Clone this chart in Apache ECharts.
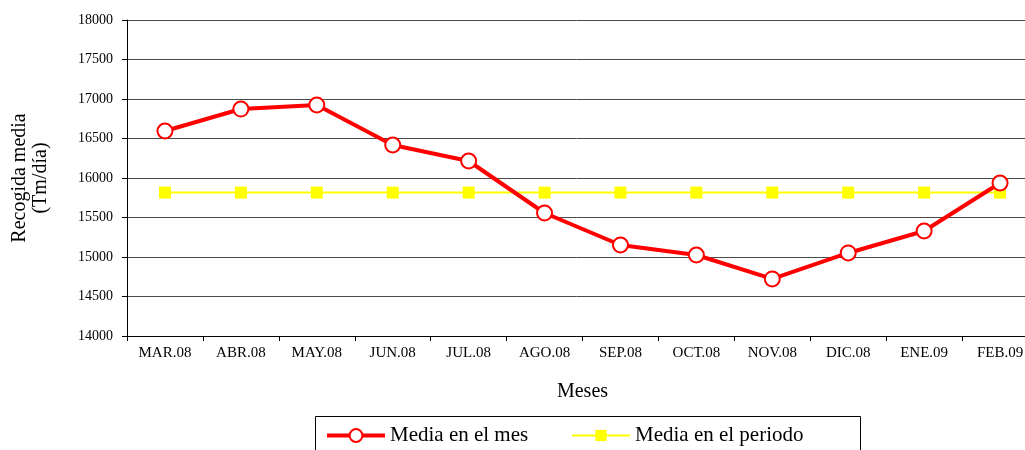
<!DOCTYPE html>
<html>
<head>
<meta charset="utf-8">
<script src="https://cdn.jsdelivr.net/npm/echarts@6/dist/echarts.min.js"></script>
<style>
  html, body { margin: 0; padding: 0; background: #fff; }
  #chart { width: 1025px; height: 450px; }
</style>
</head>
<body>
<div id="chart"></div>
<script>
// Monthly collection averages (Tm/día), March 2008 – February 2009
const months = ['MAR.08', 'ABR.08', 'MAY.08', 'JUN.08', 'JUL.08', 'AGO.08',
                'SEP.08', 'OCT.08', 'NOV.08', 'DIC.08', 'ENE.09', 'FEB.09'];
const monthlyMean = [16595, 16873, 16924, 16418, 16215, 15557,
                     15152, 15025, 14722, 15051, 15329, 15937];
const periodMean = [15815, 15815, 15815, 15815, 15815, 15815,
                    15815, 15815, 15815, 15815, 15815, 15815];
const seriesNames = ['Media en el mes', 'Media en el periodo'];

const serif = '"Liberation Serif", "Times New Roman", serif';
const chart = echarts.init(document.getElementById('chart'));

chart.setOption({
  animation: false,
  backgroundColor: '#ffffff',
  grid: { left: 127, top: 20, right: -13, bottom: 114, containLabel: false, outerBoundsMode: 'none' },
  xAxis: {
    type: 'category',
    data: months,
    boundaryGap: true,
    name: 'Meses',
    nameLocation: 'middle',
    nameGap: 46,
    nameTextStyle: { fontFamily: serif, fontSize: 20, color: '#000' },
    axisLine: { lineStyle: { color: '#000', width: 1 } },
    axisTick: { show: true, alignWithLabel: false, length: 5, lineStyle: { color: '#000' } },
    axisLabel: { fontFamily: serif, fontSize: 15, color: '#000', margin: 10, interval: 0 },
    splitLine: { show: false }
  },
  yAxis: {
    type: 'value',
    min: 14000,
    max: 18000,
    interval: 500,
    name: 'Recogida media\n(Tm/día)',
    nameLocation: 'middle',
    nameRotate: 90,
    nameGap: 76,
    nameTextStyle: { fontFamily: serif, fontSize: 20, color: '#000', lineHeight: 21 },
    axisLine: { show: true, lineStyle: { color: '#000', width: 1 } },
    axisTick: { show: true, length: 5, lineStyle: { color: '#000' } },
    axisLabel: {
      fontFamily: serif, fontSize: 14, color: '#000', margin: 14,
      formatter: v => String(v)
    },
    splitLine: { show: true, lineStyle: { color: '#4a4a4a', width: 1 } }
  },
  graphic: [{
    type: 'rect',
    shape: { x: 315.5, y: 416.5, width: 545, height: 40 },
    style: { fill: '#fff', stroke: '#000', lineWidth: 1 },
    z: 0
  }],
  legend: [{
    data: [seriesNames[0]],
    left: 320,
    top: 420,
    itemWidth: 58,
    itemHeight: 16,
    itemGap: 4,
    lineStyle: { width: 4 },
    textStyle: { fontFamily: serif, fontSize: 21, color: '#000' },
    z: 5
  }, {
    data: [seriesNames[1]],
    left: 566,
    top: 420,
    itemWidth: 58,
    itemHeight: 14,
    textStyle: { fontFamily: serif, fontSize: 21, color: '#000' },
    z: 5
  }],
  series: [{
    name: seriesNames[1],
    type: 'line',
    data: periodMean,
    symbol: 'rect',
    symbolSize: 12,
    lineStyle: { color: '#ffff00', width: 2 },
    itemStyle: { color: '#ffff00', borderWidth: 0 },
    z: 2
  }, {
    name: seriesNames[0],
    type: 'line',
    data: monthlyMean,
    symbol: 'circle',
    symbolSize: 15,
    showAllSymbol: true,
    lineStyle: { color: '#ff0000', width: 4 },
    itemStyle: { color: '#ffffff', borderColor: '#ff0000', borderWidth: 2 },
    z: 3
  }]
});
</script>
</body>
</html>
